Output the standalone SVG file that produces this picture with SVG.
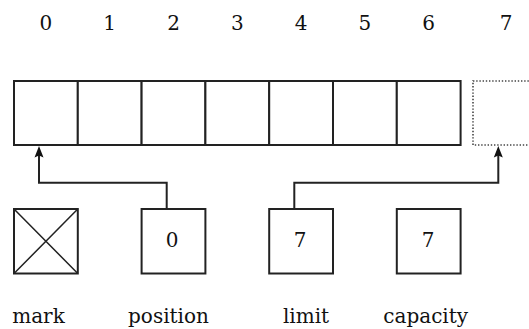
<svg xmlns="http://www.w3.org/2000/svg" width="529" height="329" viewBox="0 0 529 329">
<style>
.cell{fill:#fff;stroke:#222;stroke-width:2}
.dot{fill:none;stroke:#444;stroke-width:1.6;stroke-dasharray:1.4 1.8}
text{font-family:'DejaVu Serif','Liberation Serif',serif;fill:#111;text-anchor:middle}
.idx{font-size:20px}
.val{font-size:20px}
.lbl{font-size:20px}
.wire{fill:none;stroke:#222;stroke-width:2}
.head{fill:#111}
</style>
<rect width="529" height="329" fill="#fff"/>
<g id="indices">
<text class="idx" x="45.9" y="29.5">0</text>
<text class="idx" x="109.7" y="29.5">1</text>
<text class="idx" x="173.5" y="29.5">2</text>
<text class="idx" x="237.3" y="29.5">3</text>
<text class="idx" x="301.1" y="29.5">4</text>
<text class="idx" x="364.9" y="29.5">5</text>
<text class="idx" x="428.7" y="29.5">6</text>
<text class="idx" x="506" y="29.5">7</text>
</g>
<g id="buffer">
<rect class="cell" x="14" y="81" width="63.8" height="64"/>
<rect class="cell" x="77.8" y="81" width="63.8" height="64"/>
<rect class="cell" x="141.6" y="81" width="63.8" height="64"/>
<rect class="cell" x="205.4" y="81" width="63.8" height="64"/>
<rect class="cell" x="269.2" y="81" width="63.8" height="64"/>
<rect class="cell" x="333" y="81" width="63.8" height="64"/>
<rect class="cell" x="396.8" y="81" width="63.8" height="64"/>
<rect class="dot" x="473" y="81" width="64" height="64"/>
</g>
<g id="connectors">
<path class="wire" d="M166.7 209 V182.7 H39 V154"/>
<path class="head" d="M39 146 L43.5 157.5 L39 155.5 L34.5 157.5 Z"/>
<path class="wire" d="M294.3 209 V182.7 H498.3 V154"/>
<path class="head" d="M498.3 146 L502.8 157.5 L498.3 155.5 L493.8 157.5 Z"/>
</g>
<g id="mark">
<rect class="cell" x="14" y="209" width="63.8" height="64.5"/>
<path d="M14 209 L77.8 273.5 M77.8 209 L14 273.5" stroke="#222" stroke-width="1.5"/>
<text class="lbl" x="38.5" y="323">mark</text>
</g>
<g id="position">
<rect class="cell" x="141.6" y="209" width="63.8" height="64.5"/>
<text class="val" x="172" y="247">0</text>
<text class="lbl" x="168.5" y="323">position</text>
</g>
<g id="limit">
<rect class="cell" x="269.2" y="209" width="63.8" height="64.5"/>
<text class="val" x="300" y="247">7</text>
<text class="lbl" x="306" y="323">limit</text>
</g>
<g id="capacity">
<rect class="cell" x="396.8" y="209" width="63.8" height="64.5"/>
<text class="val" x="428" y="247">7</text>
<text class="lbl" x="425.7" y="323">capacity</text>
</g>
</svg>
